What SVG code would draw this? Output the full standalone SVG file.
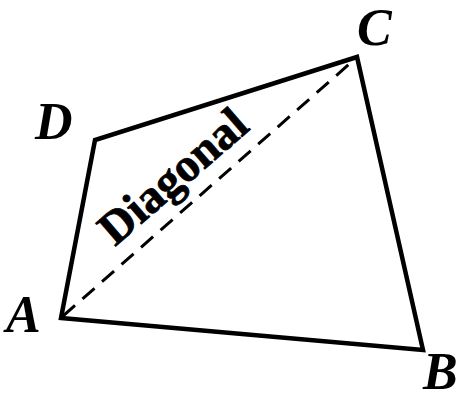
<svg xmlns="http://www.w3.org/2000/svg" width="472" height="400" viewBox="0 0 472 400">
<style>
.edge{fill:none;stroke:#000;stroke-width:4.5;stroke-linejoin:miter;stroke-linecap:round}
.diag{fill:none;stroke:#000;stroke-width:3;stroke-dasharray:16 10}
.lbl{font-family:"Liberation Serif",serif;font-weight:bold;font-style:italic;font-size:52px;fill:#000}
.dlbl{font-family:"Liberation Serif",serif;font-weight:bold;font-size:47px;fill:#000;stroke:#000;stroke-width:0.8}
</style>
<rect width="472" height="400" fill="#fff"/>
<g id="connectors">
<polygon class="edge" points="61,318 423,350 357,57 95,140"/>
<line class="diag" x1="63" y1="316" x2="355" y2="59"/>
</g>
<g id="A"><text class="lbl" x="6" y="332">A</text></g>
<g id="B"><text class="lbl" x="423" y="389">B</text></g>
<g id="C"><text class="lbl" x="357" y="45">C</text></g>
<g id="D"><text class="lbl" x="35" y="139">D</text></g>
<g id="diagonal-label"><text class="dlbl" x="183" y="188" text-anchor="middle" transform="rotate(-41 183 188)">Diagonal</text></g>
</svg>
